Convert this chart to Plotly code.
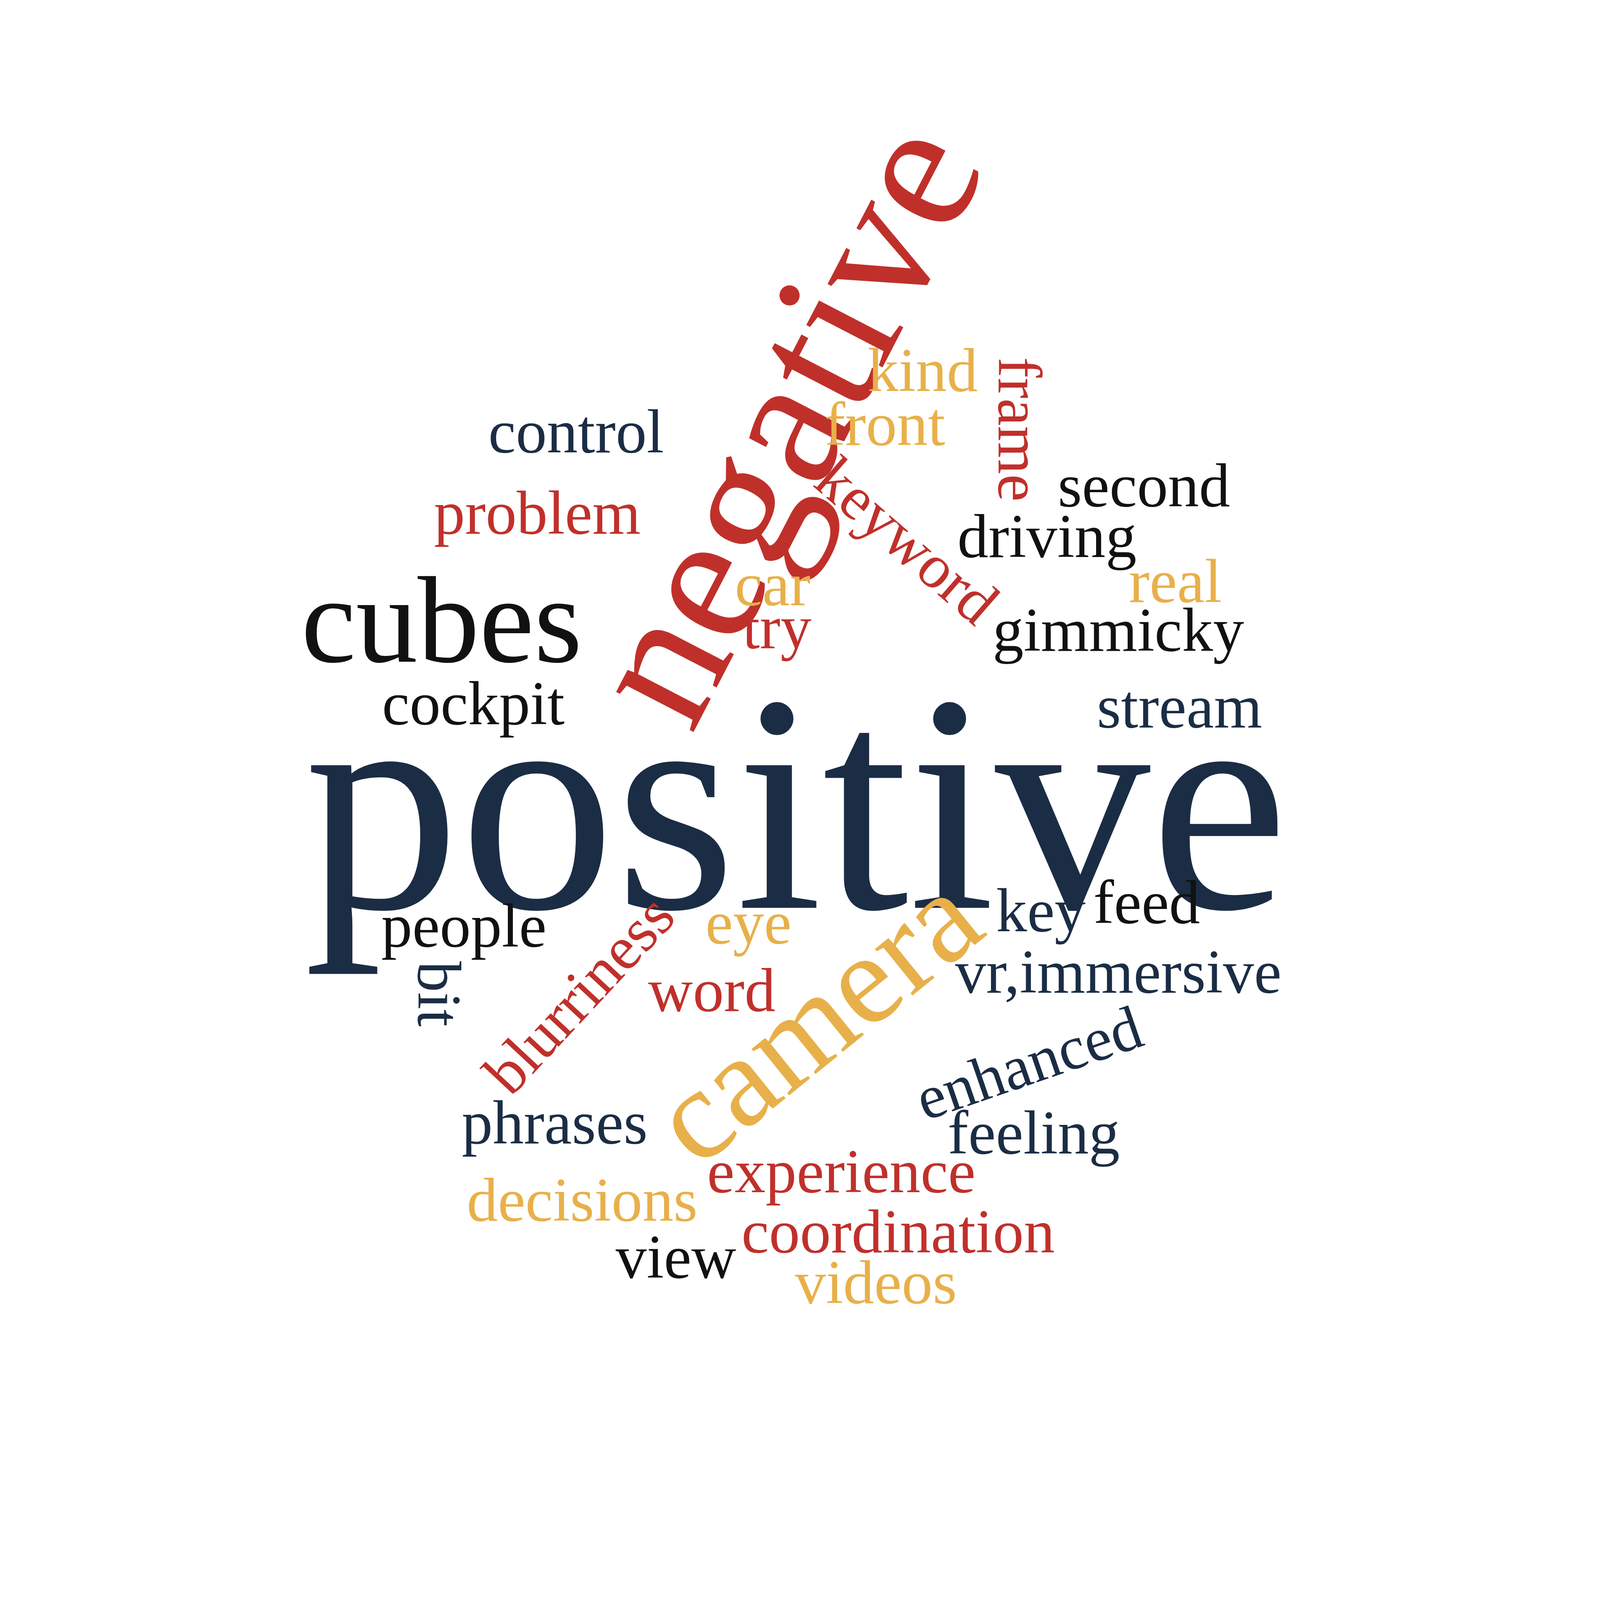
import plotly.graph_objects as go

NAVY, RED, GOLD, BLACK = "#1b2d45", "#c0302b", "#e8b04a", "#111111"

words = ["positive", "negative", "camera", "cubes", "control", "problem", "cockpit",
         "second", "driving", "gimmicky", "stream", "people", "key", "feed",
         "vr,immersive", "phrases", "feeling", "experience", "decisions",
         "coordination", "view", "videos", "word", "eye", "car", "try", "kind",
         "front", "real", "frame", "keyword", "blurriness", "enhanced", "bit"]
x = [778, 765, 797, 430, 562, 524, 461, 1119, 1024, 1094, 1154, 452, 1018, 1122,
     1094, 541, 1011, 822, 568, 878, 660, 856, 695, 731, 755, 759, 902, 865, 1150,
     997, 887, 565, 1006, 428]
y = [785, 410, 995, 605, 420, 500, 687, 473, 523, 615, 690, 905, 890, 882, 950,
     1098, 1108, 1146, 1174, 1205, 1230, 1255, 968, 902, 570, 612, 360, 413, 567,
     418, 527, 972, 1040, 972]
sizes = [982, 600, 411, 390] + [196] * 30
colors = [NAVY, RED, GOLD, BLACK, NAVY, RED, BLACK, BLACK, BLACK, BLACK, NAVY, BLACK,
          NAVY, BLACK, NAVY, NAVY, NAVY, RED, GOLD, RED, BLACK, GOLD, RED, GOLD, GOLD,
          RED, GOLD, GOLD, GOLD, RED, RED, RED, NAVY, NAVY]
angles = [0, -62.6, -39, 0, 0, 0, 0, 0, 0, 0, 0, 0, 0, 0, 0, 0, 0, 0, 0, 0, 0, 0,
          0, 0, 0, 0, 0, 0, 0, 90, 41, -47, -19, 90]

W = 4050
k = W / 5000

fig = go.Figure()
for w, xi, yi, s, c, a in zip(words, x, y, sizes, colors, angles):
    fig.add_annotation(x=xi, y=yi, xref="x", yref="y", text=w, showarrow=False,
                       textangle=a, xanchor="center", yanchor="middle",
                       font=dict(family="Liberation Serif", size=s * k, color=c))

fig.update_xaxes(range=[0, 1552], visible=False)
fig.update_yaxes(range=[1552, 0], visible=False)
fig.update_layout(width=W, height=W, margin=dict(l=0, r=0, t=0, b=0),
                  paper_bgcolor="white", plot_bgcolor="white", showlegend=False)
fig.write_html("out.html")
